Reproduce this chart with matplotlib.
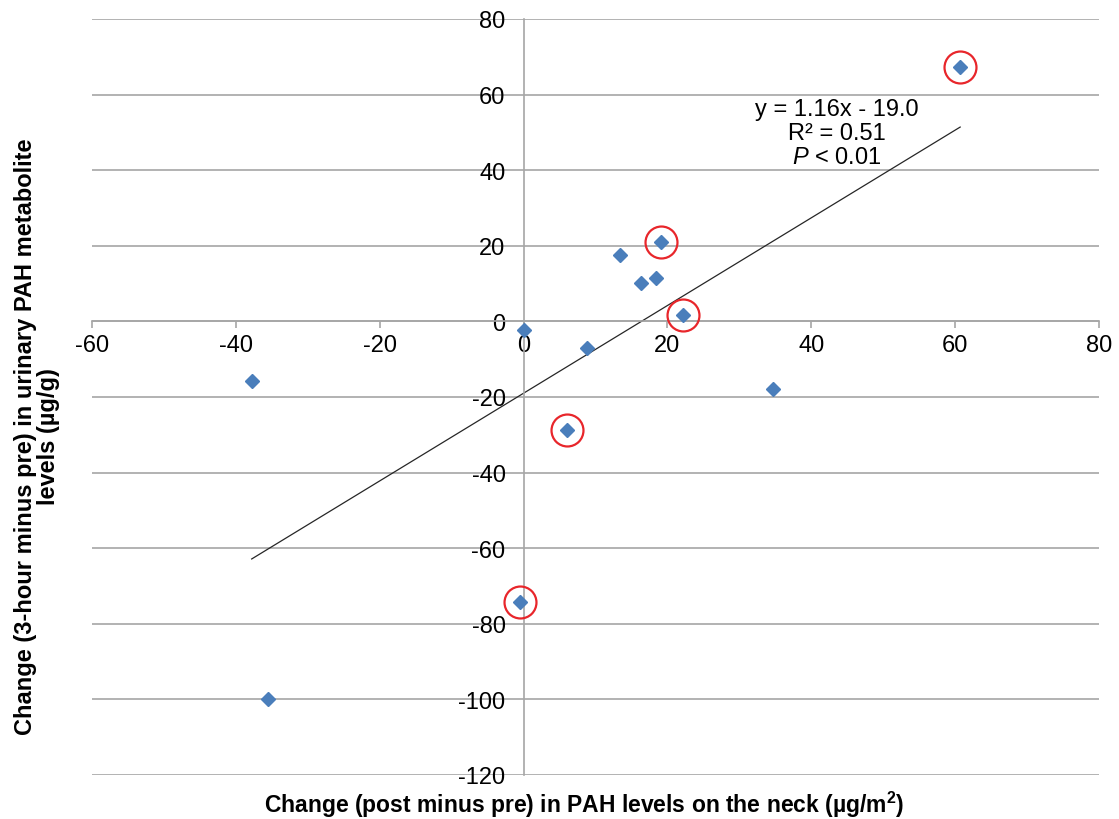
import numpy as np
import matplotlib
matplotlib.use("Agg")
from matplotlib import pyplot as plt

plt.rcParams['font.family'] = ['Liberation Sans', 'DejaVu Sans']
plt.rcParams['axes.unicode_minus'] = False
plt.rcParams['mathtext.fontset'] = 'custom'
plt.rcParams['mathtext.rm'] = 'Liberation Sans'
plt.rcParams['mathtext.it'] = 'Liberation Sans:italic'
plt.rcParams['mathtext.bf'] = 'Liberation Sans:bold'

# Data
x_change = [-37.8, -35.5, 0.0, -0.5, 6.0, 8.8, 13.4, 16.3, 18.4, 19.1, 22.1, 34.7, 60.7]
y_change = [-15.8, -100.0, -2.2, -74.3, -28.8, -7.0, 17.6, 10.2, 11.6, 21.0, 1.8, -17.8, 67.3]

# points marked with red circles
circled_x = [19.1, 22.1, 6.0, -0.5, 60.7]
circled_y = [21.0, 1.8, -28.8, -74.3, 67.3]

# trendline from the chart label
slope, intercept = 1.16, -19.0

x_ticks = [-60, -40, -20, 0, 20, 40, 60, 80]
y_ticks = [-120, -100, -80, -60, -40, -20, 0, 20, 40, 60, 80]

grid_col = '#a6a6a6'

fig = plt.figure(figsize=(11.19, 8.2), dpi=100)
ax = fig.add_axes([92 / 1119, 1 - 776 / 820, (1099 - 92) / 1119, (776 - 20) / 820])

ax.set_xlim(-60, 80)
ax.set_ylim(-120, 80)
ax.set_xticks(x_ticks)
ax.set_yticks(y_ticks)

# axes crossing at the origin
ax.spines['left'].set_position(('data', 0))
ax.spines['bottom'].set_position(('data', 0))
ax.spines['top'].set_visible(False)
ax.spines['right'].set_visible(False)
for s in ('left', 'bottom'):
    ax.spines[s].set_color(grid_col)
    ax.spines[s].set_linewidth(1.2)

ax.yaxis.grid(True, color=grid_col, linewidth=1.2)
ax.set_axisbelow(True)
ax.tick_params(axis='x', direction='out', length=5, width=1.2, color=grid_col,
               labelsize=17, pad=4)
ax.tick_params(axis='y', length=0, labelsize=17, pad=13)

# trendline over the data range
xl = np.array([min(x_change), max(x_change)])
ax.plot(xl, slope * xl + intercept, color='#262626', linewidth=0.9, zorder=2)

ax.plot(x_change, y_change, linestyle='none', marker='D', markersize=7.5,
        color='#4a7ebb', zorder=3)
ax.plot(circled_x, circled_y, linestyle='none', marker='o', markersize=23,
        markerfacecolor='none', markeredgecolor='#e8262b', markeredgewidth=1.6,
        zorder=4, clip_on=False)

ax.text(43.6, 59.0, 'y = 1.16x - 19.0\nR² = 0.51\n$\\mathit{P}$ < 0.01',
        ha='center', va='top', fontsize=17, linespacing=1.12)

fig.text(584 / 1119, 1 - 805 / 820,
         'Change (post minus pre) in PAH levels on the neck (µg/m$^{\\mathbf{2}}$)',
         ha='center', va='center', fontsize=16.5, fontweight='bold')
fig.text(37 / 1119, 1 - 437 / 820,
         'Change (3-hour minus pre) in urinary PAH metabolite\nlevels (µg/g)',
         ha='center', va='center', rotation=90, fontsize=17, fontweight='bold',
         linespacing=1.0)

fig.savefig('out.png', dpi=100)
